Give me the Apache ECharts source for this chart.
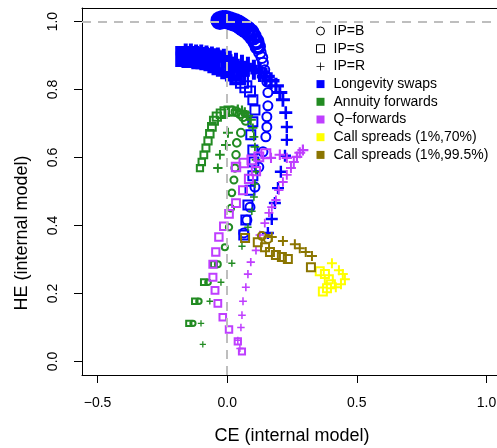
<!DOCTYPE html>
<html lang="en">
<head>
    <meta charset="UTF-8" />
    <title>HE vs CE</title>
    <script src="https://cdn.jsdelivr.net/npm/echarts@6/dist/echarts.min.js"></script>
</head>
<body style="margin:0">
    <div id="chart" style="width: 497px; height: 448px"></div>
    <script>
        // tick labels
        var xTicks = [-0.5, 0, 0.5, 1.0];
        var yTicks = [0, 0.2, 0.4, 0.6, 0.8, 1.0];

        // Longevity swaps
        var swapsB = [[-0.028,1.003],[-0.017,1.006],[-0.005,1.006],[0.007,1.003],[0.018,1.0],[0.030,0.997],[0.041,0.994],[0.053,0.988],[0.064,0.982],[0.076,0.976],[0.088,0.968],[0.099,0.956],[0.111,0.941],[0.118,0.926],[0.126,0.909],[0.134,0.894],[0.138,0.879],[0.145,0.858],[0.149,0.841],[0.153,0.823],[0.157,0.791],[0.157,0.752],[0.153,0.720],[0.153,0.690],[0.149,0.661],[0.138,0.617],[0.122,0.572],[0.107,0.513],[0.088,0.454],[0.076,0.416],[0.064,0.378]];
        var swapsS = [[-0.160,0.897],[-0.148,0.897],[-0.136,0.894],[-0.124,0.894],[-0.111,0.894],[-0.098,0.891],[-0.082,0.891],[-0.067,0.888],[-0.051,0.885],[-0.036,0.879],[-0.020,0.873],[-0.005,0.867],[0.010,0.858],[0.026,0.850],[0.041,0.838],[0.057,0.823],[0.072,0.808],[0.088,0.794],[0.099,0.770],[0.107,0.740],[0.099,0.705],[0.091,0.667],[0.099,0.622],[0.103,0.587],[0.099,0.546],[0.088,0.504],[0.080,0.460],[0.072,0.416],[0.064,0.372]];
        var swapsR = [[-0.160,0.906],[-0.140,0.906],[-0.120,0.903],[-0.100,0.903],[-0.080,0.900],[-0.059,0.897],[-0.036,0.894],[-0.013,0.891],[0.010,0.885],[0.034,0.879],[0.057,0.873],[0.080,0.867],[0.103,0.858],[0.126,0.850],[0.149,0.838],[0.169,0.826],[0.188,0.811],[0.203,0.791],[0.215,0.770],[0.226,0.732],[0.230,0.690],[0.230,0.652],[0.223,0.605],[0.207,0.558],[0.196,0.510],[0.184,0.466],[0.172,0.419],[0.157,0.378]];

        // Annuity forwards
        var annB = [[0.018,0.737],[0.034,0.735],[0.049,0.729],[0.061,0.720],[0.072,0.708],[0.053,0.673],[0.037,0.643],[0.034,0.608],[0.030,0.569],[0.026,0.534],[0.018,0.496],[0.014,0.451],[0.007,0.395],[-0.009,0.336],[-0.036,0.286],[-0.074,0.233],[-0.109,0.177],[-0.132,0.112]];
        var annS = [[0.007,0.737],[-0.009,0.735],[-0.024,0.729],[-0.040,0.720],[-0.051,0.708],[-0.059,0.690],[-0.067,0.670],[-0.074,0.649],[-0.082,0.628],[-0.090,0.608],[-0.098,0.587],[-0.105,0.569],[-0.051,0.286],[-0.090,0.233],[-0.125,0.177],[-0.148,0.112]];
        var annR = [[0.041,0.740],[0.057,0.737],[0.068,0.732],[0.080,0.723],[0.091,0.711],[0.003,0.673],[-0.005,0.637],[-0.028,0.608],[-0.036,0.569],[0.099,0.687],[0.103,0.661],[0.107,0.631],[0.111,0.593],[0.111,0.558],[0.107,0.522],[0.103,0.484],[0.095,0.442],[0.080,0.395],[0.057,0.339],[0.018,0.289],[-0.024,0.233],[-0.067,0.177],[-0.101,0.112],[-0.094,0.050]];

        // Q-forwards
        var qS = [[0.149,0.611],[0.122,0.602],[0.095,0.593],[0.064,0.584],[0.034,0.572],[0.111,0.560],[0.084,0.537],[0.061,0.504],[0.034,0.466],[0.007,0.434],[-0.013,0.398],[-0.032,0.366],[-0.044,0.322],[-0.055,0.286],[-0.055,0.248],[-0.047,0.209],[-0.036,0.171],[-0.017,0.130],[0.007,0.094],[0.041,0.059],[0.057,0.029]];
        var qR = [[0.292,0.622],[0.280,0.614],[0.269,0.602],[0.203,0.608],[0.230,0.599],[0.169,0.599],[0.257,0.587],[0.246,0.569],[0.230,0.549],[0.215,0.528],[0.199,0.504],[0.188,0.475],[0.172,0.454],[0.161,0.437],[0.145,0.407],[0.126,0.372],[0.111,0.327],[0.091,0.292],[0.080,0.257],[0.072,0.218],[0.061,0.177],[0.057,0.136],[0.053,0.100],[0.041,0.062],[0.049,0.038]];

        // Call spreads (1%,70%)
        var cs70S = [[0.357,0.265],[0.377,0.257],[0.392,0.242],[0.400,0.227],[0.385,0.215],[0.369,0.206]];
        var cs70R = [[0.404,0.289],[0.431,0.268],[0.446,0.257],[0.454,0.242],[0.439,0.227],[0.419,0.218]];

        // Call spreads (1%,99.5%)
        var cs995B = [[0.134,0.369],[0.157,0.360]];
        var cs995S = [[0.069,0.363],[0.118,0.351],[0.146,0.336],[0.165,0.322],[0.188,0.313],[0.211,0.307],[0.234,0.301],[0.323,0.277]];
        var cs995R = [[0.172,0.366],[0.215,0.354],[0.261,0.345],[0.280,0.333],[0.303,0.322],[0.327,0.310]];

        var cBlue = '#0000FF', cGreen = '#228B22', cPurple = '#BF3EFF', cYellow = '#FFFF00', cOlive = '#8B7500';
        var plusPath = 'path://M4,0H6V4H10V6H6V10H4V6H0V4H4Z';
        var thinPlus = 'path://M4.5,0H5.5V4.5H10V5.5H5.5V10H4.5V5.5H0V4.5H4.5Z';
        var squarePath = 'path://M0,0H10V10H0Z';
        var font = 'Liberation Sans, Arial, Helvetica, sans-serif';

        // size shrinks along each curve
        function sizer(big, small, hold, n) {
            return function (i) {
                if (i < hold) return big;
                if (i < n) return big - (big - small) * (i - hold) / (n - hold);
                return small;
            };
        }

        function marks(name, data, color, shape, size) {
            var items = data.map(function (d, i) {
                var s = size(i);
                var it = { value: d, symbolSize: s };
                if (shape !== 'plus') it.itemStyle = { borderWidth: s > 12 ? 4 : 2 };
                return it;
            });
            var s = {
                name: name,
                type: 'scatter',
                data: items,
                silent: true
            };
            if (shape === 'plus') {
                s.symbol = plusPath;
                s.itemStyle = { color: color, opacity: 1 };
            } else {
                s.symbol = shape;
                s.itemStyle = { color: 'rgba(0,0,0,0)', borderColor: color, borderWidth: 2, opacity: 1 };
            }
            return s;
        }

        var series = [
            marks('b1', swapsB, cBlue, 'circle', sizer(15, 9, 10, 17)),
            marks('b2', swapsS, cBlue, 'rect', sizer(17, 9, 10, 18)),
            marks('b3', swapsR, cBlue, 'plus', sizer(20, 12, 12, 20)),
            marks('g1', annB, cGreen, 'circle', sizer(9, 5, 0, annB.length)),
            marks('g2', annS, cGreen, 'rect', sizer(9, 5, 0, annS.length)),
            marks('g3', annR, cGreen, 'plus', sizer(11, 6, 0, annR.length)),
            marks('p2', qS, cPurple, 'rect', sizer(9, 6, 0, qS.length)),
            marks('p3', qR, cPurple, 'plus', sizer(11, 7, 0, qR.length)),
            marks('y2', cs70S, cYellow, 'rect', sizer(8, 8, 0, 1)),
            marks('y3', cs70R, cYellow, 'plus', sizer(10, 10, 0, 1)),
            marks('o1', cs995B, cOlive, 'circle', sizer(8, 8, 0, 1)),
            marks('o2', cs995S, cOlive, 'rect', sizer(8, 8, 0, 1)),
            marks('o3', cs995R, cOlive, 'plus', sizer(10, 10, 0, 1))
        ];

        // reference lines
        series.push({
            type: 'scatter',
            data: [],
            silent: true,
            markLine: {
                silent: true,
                symbol: 'none',
                label: { show: false },
                lineStyle: { color: '#BEBEBE', width: 2, type: [9, 7], opacity: 1 },
                data: [{ yAxis: 1 }, { xAxis: 0 }]
            }
        });

        // legend entries
        var legendItems = [
            { name: 'IP=B', icon: 'circle', itemStyle: { color: 'rgba(0,0,0,0)', borderColor: '#000', borderWidth: 1, opacity: 1 } },
            { name: 'IP=S', icon: squarePath, itemStyle: { color: 'rgba(0,0,0,0)', borderColor: '#000', borderWidth: 1, opacity: 1 } },
            { name: 'IP=R', icon: thinPlus, itemStyle: { color: '#000', opacity: 1 } },
            { name: 'Longevity swaps', icon: squarePath, itemStyle: { color: cBlue, opacity: 1 } },
            { name: 'Annuity forwards', icon: squarePath, itemStyle: { color: cGreen, opacity: 1 } },
            { name: 'Q\u2212forwards', icon: squarePath, itemStyle: { color: cPurple, opacity: 1 } },
            { name: 'Call spreads (1%,70%)', icon: squarePath, itemStyle: { color: cYellow, opacity: 1 } },
            { name: 'Call spreads (1%,99.5%)', icon: squarePath, itemStyle: { color: cOlive, opacity: 1 } }
        ];
        legendItems.forEach(function (it) {
            series.push({ name: it.name, type: 'scatter', data: [], symbol: it.icon, itemStyle: it.itemStyle });
        });

        function fmt(v) {
            return v.toFixed(1).replace('-', '\u2212');
        }

        var axisBlack = { show: true, onZero: false, lineStyle: { color: '#000', width: 1 } };

        var chart = echarts.init(document.getElementById('chart'));
        chart.setOption({
            animation: false,
            textStyle: { fontFamily: font },
            grid: { left: 82, top: 8, width: 420, height: 367, show: false, outerBoundsMode: 'none', containLabel: false },
            legend: {
                data: legendItems,
                orient: 'vertical',
                left: 311,
                top: 18,
                itemWidth: 8,
                itemHeight: 8,
                itemGap: 1.7,
                symbolKeepAspect: true,
                selectedMode: false,
                textStyle: { fontSize: 14, lineHeight: 16, color: '#000', fontFamily: font, padding: [0, 0, 0, 4] }
            },
            xAxis: [{
                type: 'value',
                position: 'bottom',
                min: -0.56,
                max: 1.06,
                splitLine: { show: false },
                axisLine: axisBlack,
                axisTick: { show: true, length: 8, lineStyle: { color: '#000' }, customValues: xTicks },
                axisLabel: { fontSize: 14, color: '#000', margin: 21, fontFamily: font, customValues: xTicks, formatter: fmt },
                name: 'CE (internal model)',
                nameLocation: 'middle',
                nameGap: 52,
                nameTextStyle: { fontSize: 18, color: '#000', fontFamily: font }
            }, {
                type: 'value',
                position: 'top',
                min: -0.56,
                max: 1.06,
                splitLine: { show: false },
                axisLine: axisBlack,
                axisTick: { show: false },
                axisLabel: { show: false }
            }],
            yAxis: {
                type: 'value',
                position: 'left',
                min: -0.04,
                max: 1.04,
                splitLine: { show: false },
                axisLine: axisBlack,
                axisTick: { show: true, length: 8, lineStyle: { color: '#000' }, customValues: yTicks },
                axisLabel: { fontSize: 14, color: '#000', margin: 22, rotate: 90, fontFamily: font, customValues: yTicks, formatter: fmt }
            },
            graphic: [{
                type: 'text',
                x: 22,
                y: 233,
                rotation: Math.PI / 2,
                style: { text: 'HE (internal model)', fontSize: 18, fill: '#000', fontFamily: font, textAlign: 'center', textVerticalAlign: 'middle' }
            }],
            series: series
        });
    </script>
</body>
</html>
